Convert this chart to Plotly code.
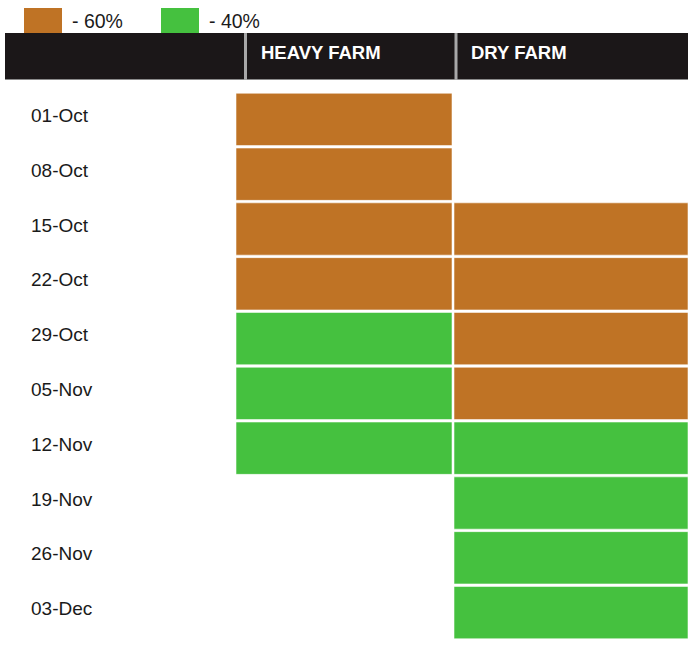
import plotly.graph_objects as go

# ---------------- data ----------------
dates = ["01-Oct", "08-Oct", "15-Oct", "22-Oct", "29-Oct",
         "05-Nov", "12-Nov", "19-Nov", "26-Nov", "03-Dec"]
farms = ["HEAVY FARM", "DRY FARM"]
heavy_farm = ["60%", "60%", "60%", "60%", "40%", "40%", "40%", None, None, None]
dry_farm = [None, None, "60%", "60%", "60%", "60%", "40%", "40%", "40%", "40%"]
levels = ["60%", "40%"]
level_colors = {"60%": "#BF7325", "40%": "#45C13F"}

# ---------------- layout helpers ----------------
W, H = 688, 660
MT, MB = 92, 19.5
PH = H - MT - MB


def px(x):
    return x / W


def py(y):
    return (H - MB - y) / PH


fig = go.Figure()

farm_values = {"HEAVY FARM": heavy_farm, "DRY FARM": dry_farm}
axis_ids = {"HEAVY FARM": "x", "DRY FARM": "x2"}

for farm in farms:
    vals = farm_values[farm]
    for lvl in levels:
        ys = [d for d, v in zip(dates, vals) if v == lvl]
        fig.add_trace(go.Bar(
            y=ys, x=[1] * len(ys), base=0, orientation="h",
            xaxis=axis_ids[farm], yaxis="y",
            marker=dict(color=level_colors[lvl],
                        line=dict(color="rgba(255,255,255,0.55)", width=1)),
            showlegend=False, hoverinfo="skip",
            name=f"{farm} {lvl}",
        ))

font_family = "Liberation Sans, Arial, Helvetica, sans-serif"

shapes = []
annotations = []

# header band
shapes.append(dict(type="rect", xref="paper", yref="paper",
                   x0=px(5), x1=px(688), y0=py(80), y1=py(33),
                   fillcolor="#1b1718", line=dict(width=0), layer="above"))
shapes.append(dict(type="line", xref="paper", yref="paper",
                   x0=px(5), x1=px(688), y0=py(79.5), y1=py(79.5),
                   line=dict(color="#8a8a8a", width=1)))
header_div = [245.5, 456]
for xd, farm in zip(header_div, farms):
    shapes.append(dict(type="line", xref="paper", yref="paper",
                       x0=px(xd), x1=px(xd), y0=py(80), y1=py(33),
                       line=dict(color="#a8a8a8", width=3)))
    annotations.append(dict(text=f"<b>{farm}</b>", xref="paper", yref="paper",
                            x=px(xd + 13), y=py(52), xanchor="left", yanchor="middle",
                            showarrow=False,
                            font=dict(family=font_family, size=18.5, color="white")))

# legend
legend_x = [24, 161]
for lx, lvl in zip(legend_x, levels):
    shapes.append(dict(type="rect", xref="paper", yref="paper",
                       x0=px(lx), x1=px(lx + 38), y0=py(33), y1=py(8),
                       fillcolor=level_colors[lvl], line=dict(width=0)))
    annotations.append(dict(text=f"- {lvl}", xref="paper", yref="paper",
                            x=px(lx + 46), y=py(21), xanchor="left", yanchor="middle",
                            showarrow=False,
                            font=dict(family=font_family, size=19.5, color="#1a1a1a")))

fig.update_layout(
    width=W, height=H,
    margin=dict(l=0, r=0, t=MT, b=MB, pad=0),
    paper_bgcolor="white", plot_bgcolor="white",
    bargap=0.045,
    barmode="overlay",
    showlegend=False,
    xaxis=dict(domain=[px(236), px(452)], range=[0, 1], visible=False,
               showgrid=False, zeroline=False, fixedrange=True),
    xaxis2=dict(domain=[px(454), 1], range=[0, 1], visible=False,
                showgrid=False, zeroline=False, fixedrange=True),
    yaxis=dict(type="category", categoryorder="array", categoryarray=dates,
               range=[len(dates) - 0.5, -0.5],
               tickvals=dates, ticktext=dates,
               anchor="free", position=px(27),
               ticklabelposition="inside", ticks="",
               ticklabelshift=4,
               showgrid=False, zeroline=False, showline=False, fixedrange=True,
               tickfont=dict(family=font_family, size=19, color="#1a1a1a")),
    shapes=shapes,
    annotations=annotations,
)

fig.write_html("out.html",
               config={"displayModeBar": False, "staticPlot": True},
               post_script="document.body.style.margin='0px';"
                           "document.body.style.overflow='hidden';")
